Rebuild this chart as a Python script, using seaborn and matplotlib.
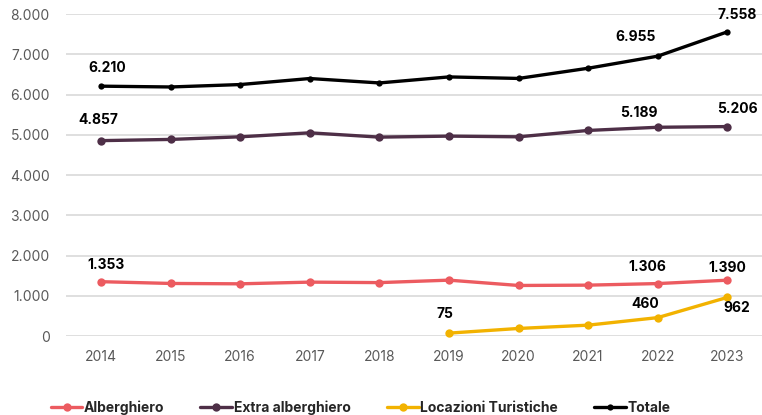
import matplotlib
matplotlib.use("Agg")
import matplotlib.pyplot as plt
import seaborn as sns
import pandas as pd
import numpy as np

years = [2014, 2015, 2016, 2017, 2018, 2019, 2020, 2021, 2022, 2023]
alberghiero = [1353, 1309, 1300, 1342, 1330, 1391, 1259, 1267, 1306, 1390]
extra_alberghiero = [4857, 4887, 4952, 5051, 4944, 4969, 4952, 5110, 5189, 5206]
locazioni = [np.nan, np.nan, np.nan, np.nan, np.nan, 75, 191, 273, 460, 962]
totale = [6210, 6190, 6250, 6400, 6290, 6440, 6402, 6655, 6955, 7558]

series_names = ["Alberghiero", "Extra alberghiero", "Locazioni Turistiche", "Totale"]
colors = ["#EC5B60", "#4E2F47", "#F2B200", "#000000"]

# labelled points: (series, year) -> offset in pixels
labels = [
    ("Totale", 2014, (6, 18)), ("Totale", 2022, (-22, 19)), ("Totale", 2023, (10, 17)),
    ("Extra alberghiero", 2014, (-3, 21)), ("Extra alberghiero", 2022, (-19, 14)),
    ("Extra alberghiero", 2023, (10, 18)),
    ("Alberghiero", 2014, (5, 17)), ("Alberghiero", 2022, (-10, 17)),
    ("Alberghiero", 2023, (0, 12)),
    ("Locazioni Turistiche", 2019, (-4, 19)), ("Locazioni Turistiche", 2022, (-12, 14)),
    ("Locazioni Turistiche", 2023, (10, -11)),
]

df = pd.DataFrame({
    "Anno": years * 4,
    "Valore": alberghiero + extra_alberghiero + locazioni + totale,
    "Serie": sum([[n] * len(years) for n in series_names], []),
})

sns.set_style("white")
plt.rcParams["font.family"] = ["Inter", "DejaVu Sans"]

fig = plt.figure(figsize=(7.62, 4.15), dpi=100)
ax = fig.add_axes([0.087, 0.19, 0.913, 0.776])

for name, col in zip(series_names, colors):
    sub = df[df["Serie"] == name].dropna()
    small = name == "Totale"
    sns.lineplot(data=sub, x="Anno", y="Valore", ax=ax, color=col,
                 linewidth=2.4, marker="o", markersize=4.5 if small else 6,
                 markeredgewidth=0, label=name, clip_on=False, zorder=3)

for name, yr, off in labels:
    v = df[(df["Serie"] == name) & (df["Anno"] == yr)]["Valore"].iloc[0]
    txt = f"{int(v):,}".replace(",", ".")
    ax.annotate(txt, (yr, v), xytext=off, textcoords="offset pixels",
                ha="center", va="center", fontsize=10, fontweight="bold",
                color="black")

ax.set_xlim(2013.5, 2023.5)
ax.set_ylim(0, 8000)
ax.set_xticks(years)
ax.set_yticks(range(0, 8001, 1000))
ax.set_yticklabels([f"{v:,}".replace(",", ".") for v in range(0, 8001, 1000)])
ax.set_xlabel("")
ax.set_ylabel("")
ax.grid(axis="y", color="#D9D9D9", linewidth=1.2)
ax.grid(axis="x", visible=False)
ax.tick_params(axis="both", length=0, labelsize=10, labelcolor="#595959")
ax.tick_params(axis="x", pad=10)
ax.tick_params(axis="y", pad=12)
for s in ax.spines.values():
    s.set_visible(False)

handles, lbls = ax.get_legend_handles_labels()
ax.get_legend().remove()
fig.legend(handles, lbls, loc="lower center", bbox_to_anchor=(0.473, -0.03),
           ncol=4, frameon=False, handlelength=2.3, handletextpad=0.1,
           columnspacing=2.6, prop={"weight": "bold", "size": 10})

fig.savefig("out.png", dpi=100)
